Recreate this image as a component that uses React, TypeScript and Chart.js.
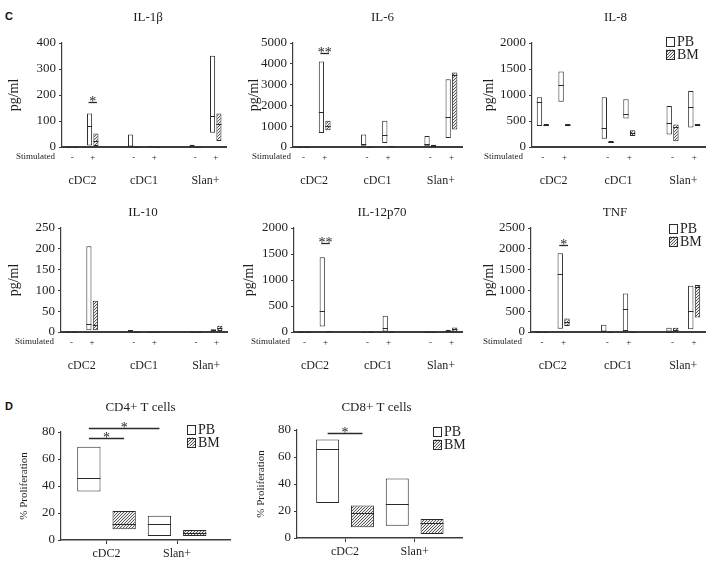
import React, { useEffect, useRef } from "react";
import { Chart, registerables } from "chart.js";

Chart.register(...registerables);

const SERIF = "'Liberation Serif', 'Times New Roman', Times, serif";
const SANS = "'Liberation Sans', Arial, sans-serif";
const INK = "#1e1e1e";
const AXIS = "#3c3c3c";
const EDGE = "#2a2a2a";

// ---------------- data ----------------
// x slots of the cytokine panels (blank slots separate the cell groups)
const STIM_LABELS = ["-", "+", "", "-", "+", "", "-", "+"];
const CELL_GROUPS = ["cDC2", "cDC1", "Slan+"];
const GROUP_CENTERS = [0.5, 3.5, 6.5];
const COLUMN_SLOTS = [0, 1, 3, 4, 6, 7];
const SOURCES = ["PB", "BM"];
const TCELL_GROUPS = ["cDC2", "Slan+"];

// [min, median, max] for columns: cDC2 -, cDC2 +, cDC1 -, cDC1 +, Slan+ -, Slan+ +
const IL1B_PB = [[0, 1, 3], [6, 80, 129], [2, 5, 48], [0, 2, 4], [2, 5, 9], [55, 120, 351]];
const IL1B_BM = [[0, 1, 3], [4, 25, 52], [0, 1, 3], [0, 1, 3], [0, 1, 3], [23, 90, 129]];
const IL6_PB = [[0, 20, 40], [677, 1694, 4113], [65, 129, 597], [194, 581, 1258], [32, 129, 532], [435, 1419, 3258]];
const IL6_BM = [[0, 20, 40], [806, 1032, 1258], [0, 15, 30], [0, 25, 50], [32, 60, 113], [839, 3450, 3580]];
const IL8_PB = [[406, 858, 955], [871, 1194, 1452], [161, 374, 955], [548, 626, 916], [239, 452, 787], [374, 761, 1077]];
const IL8_BM = [[400, 420, 440], [400, 420, 440], [77, 97, 116], [213, 277, 323], [110, 387, 432], [400, 420, 440]];
const IL10_PB = [[0, 1, 2], [4, 20, 206], [0, 3, 5], [0, 1, 2], [0, 0.5, 1], [1.6, 4, 6.5]];
const IL10_BM = [[0, 1, 2], [4, 18, 75], [0, 1, 2], [0, 1, 2], [0, 0.5, 1], [2.4, 10, 15]];
const IL12_PB = [[0, 5, 15], [105, 412, 1437], [0, 5, 10], [0, 80, 314], [0, 1, 3], [5, 20, 40]];
const IL12_BM = [[0, 5, 15], [0, 10, 20], [0, 3, 6], [0, 3, 6], [0, 1, 3], [5, 50, 85]];
const TNF_PB = [[0, 10, 25], [80, 1387, 1895], [0, 16, 177], [24, 548, 927], [0, 10, 105], [65, 500, 1113]];
const TNF_BM = [[0, 10, 20], [145, 242, 323], [0, 5, 10], [0, 5, 10], [0, 56, 105], [347, 1089, 1129]];

// % proliferation [min, median, max] for cDC2, Slan+
const CD4_PB = [[36, 46, 69], [3, 12, 18]];
const CD4_BM = [[8, 12, 21.5], [3, 5, 7.5]];
const CD8_PB = [[26, 66, 73], [9, 25, 44]];
const CD8_BM = [[8, 18.5, 24], [3, 11, 14]];

// ---------------- layout ----------------
const ROWS = [
  { top: 0, height: 195, plotTop: 43, plotBottom: 147 },
  { top: 195, height: 185, plotTop: 228, plotBottom: 332 },
];
const X1_H = 20;
const X2_H = 24;
const Y_W = 56;

const CYTO_PANELS = [
  { title: "IL-1β", pb: IL1B_PB, bm: IL1B_BM, max: 400, step: 100, row: 0, axisX: 62, rightX: 226, yTitlePad: 0, titleDx: 4, titleGap: 25, stimDx: 7, marks: [{ col: 1, value: 175, text: "*" }], legend: null },
  { title: "IL-6", pb: IL6_PB, bm: IL6_BM, max: 5000, step: 1000, row: 0, axisX: 293, rightX: 462, yTitlePad: 9, titleDx: 5, titleGap: 25, stimDx: 2, marks: [{ col: 1, value: 4520, text: "**" }], legend: null },
  { title: "IL-8", pb: IL8_PB, bm: IL8_BM, max: 2000, step: 500, row: 0, axisX: 532, rightX: 705, yTitlePad: 5, titleDx: -3, titleGap: 25, stimDx: 9, marks: [], legend: { dx: -39, dy: -2 } },
  { title: "IL-10", pb: IL10_PB, bm: IL10_BM, max: 250, step: 50, row: 1, axisX: 61, rightX: 227, yTitlePad: 1, titleDx: -1, titleGap: 15, stimDx: 7, marks: [], legend: null },
  { title: "IL-12p70", pb: IL12_PB, bm: IL12_BM, max: 2000, step: 500, row: 1, axisX: 294, rightX: 462, yTitlePad: 3, titleDx: 4, titleGap: 15, stimDx: 4, marks: [{ col: 1, value: 1706, text: "**" }], legend: null },
  { title: "TNF", pb: TNF_PB, bm: TNF_BM, max: 2500, step: 500, row: 1, axisX: 531, rightX: 705, yTitlePad: 6, titleDx: -3, titleGap: 15, stimDx: 9, marks: [{ col: 1, value: 2090, text: "*" }], legend: { dx: -36, dy: 0 } },
];

const TCELL_PANELS = [
  { title: "CD4+ T cells", pb: CD4_PB, bm: CD4_BM, top: 385, height: 180, plotTop: 432, plotBottom: 540, axisX: 61, rightX: 230, xmin: -0.645, xmax: 1.75, yTitlePad: 13, titleDx: -5, titleGap: 24,
    marks: [{ from: [0, 0], to: [1, 0], value: 75.5, text: "*" }, { from: [0, 0], to: [0, 1], value: 83, text: "*" }], legend: { dx: -43, dy: -3 } },
  { title: "CD8+ T cells", pb: CD8_PB, bm: CD8_BM, top: 385, height: 180, plotTop: 430, plotBottom: 538, axisX: 297, rightX: 462, xmin: -0.69, xmax: 1.68, yTitlePad: 14, titleDx: -3, titleGap: 22,
    marks: [{ from: [0, 0], to: [1, 0], value: 78, text: "*" }], legend: { dx: -29, dy: 1 } },
];

function makeHatch(): any {
  const n = 3;
  const c = document.createElement("canvas");
  c.width = n;
  c.height = n;
  const g = c.getContext("2d");
  if (!g) return "#9a9a9a";
  g.fillStyle = "#ededed";
  g.fillRect(0, 0, n, n);
  g.strokeStyle = "#555555";
  g.lineWidth = 1;
  g.beginPath();
  g.moveTo(0, n); g.lineTo(n, 0);
  g.moveTo(-1, 1); g.lineTo(1, -1);
  g.moveTo(n - 1, n + 1); g.lineTo(n + 1, n - 1);
  g.stroke();
  return g.createPattern(c, "repeat") || "#9a9a9a";
}

function slotted(vals: any[]): any[] {
  const out: any[] = new Array(STIM_LABELS.length).fill(null);
  COLUMN_SLOTS.forEach((s, i) => { out[s] = vals[i]; });
  return out;
}

const overlay = {
  id: "overlay",
  afterDatasetsDraw(chart: any, _a: any, o: any) {
    const ctx = chart.ctx;
    const ca = chart.chartArea;
    const ys = chart.scales.y;
    ctx.save();
    // medians
    ctx.lineWidth = 1;
    ctx.strokeStyle = EDGE;
    (o.medians || []).forEach((meds: any[], di: number) => {
      const els = chart.getDatasetMeta(di).data;
      meds.forEach((m: any, i: number) => {
        const el = els[i];
        if (m == null || !el) return;
        const p = el.getProps(["x", "width"], true);
        if (!Number.isFinite(p.x) || !Number.isFinite(p.width)) return;
        const y = Math.round(ys.getPixelForValue(m)) + 0.5;
        ctx.beginPath();
        ctx.moveTo(p.x - p.width / 2, y);
        ctx.lineTo(p.x + p.width / 2, y);
        ctx.stroke();
      });
    });
    // significance bars
    ctx.fillStyle = INK;
    ctx.textAlign = "center";
    ctx.textBaseline = "alphabetic";
    ctx.font = `14px ${SERIF}`;
    (o.marks || []).forEach((mk: any) => {
      const a = chart.getDatasetMeta(mk.from[0]).data[mk.from[1]];
      const b = chart.getDatasetMeta(mk.to[0]).data[mk.to[1]];
      const ext = mk.extend || 0;
      const x1 = a.x - ext;
      const x2 = b.x + ext;
      const y = Math.round(ys.getPixelForValue(mk.value)) + 0.5;
      ctx.lineWidth = 1.3;
      ctx.strokeStyle = EDGE;
      ctx.beginPath();
      ctx.moveTo(x1, y);
      ctx.lineTo(x2, y);
      ctx.stroke();
      ctx.fillText(mk.text, (x1 + x2) / 2, y + 3);
    });
    // panel title
    ctx.font = `13px ${SERIF}`;
    ctx.textBaseline = "middle";
    ctx.textAlign = "center";
    ctx.fillText(o.title, (ca.left + ca.right) / 2 + o.titleDx, ca.top - o.titleGap);
    // "Stimulated" row label
    if (o.stimDx != null) {
      ctx.font = `9px ${SERIF}`;
      ctx.textAlign = "right";
      ctx.fillText("Stimulated", ca.left - o.stimDx, ca.bottom + 10);
    }
    // legend
    if (o.legend) {
      const lx = ca.right + o.legend.dx;
      const ly = ca.top + o.legend.dy;
      o.legend.fills.forEach((f: any, i: number) => {
        const cy = ly + i * 13;
        ctx.fillStyle = f;
        ctx.fillRect(lx, cy - 4.5, 8, 9);
        ctx.lineWidth = 1;
        ctx.strokeStyle = EDGE;
        ctx.strokeRect(lx + 0.5, Math.round(cy - 4.5) + 0.5, 8, 9);
        ctx.fillStyle = INK;
        ctx.font = `14px ${SERIF}`;
        ctx.textAlign = "left";
        ctx.textBaseline = "middle";
        ctx.fillText(SOURCES[i], lx + 11, cy + 1);
      });
    }
    ctx.restore();
  },
};

function yAxis(max: number, step: number, label: string, labelSize: number, pad: number) {
  return {
    type: "linear",
    position: "left",
    min: 0,
    max,
    afterFit: (s: any) => { s.width = Y_W; },
    ticks: { stepSize: step, font: { family: SERIF, size: 13 }, color: INK, padding: 3, callback: (v: any) => String(v) },
    grid: { display: true, drawOnChartArea: false, drawTicks: true, tickLength: 3, color: AXIS, lineWidth: 1 },
    border: { display: true, color: AXIS, width: 1.2 },
    title: { display: true, text: label, font: { family: SERIF, size: labelSize }, color: INK, padding: { top: pad, bottom: 0 } },
  };
}

function cytoConfig(p: any, hatch: any) {
  const row = ROWS[p.row];
  const left = p.axisX - Y_W;
  const padR = 3;
  const padB = row.top + row.height - (row.plotBottom + X1_H + X2_H);
  const barStyle = { borderColor: EDGE, borderWidth: 1, borderSkipped: false, categoryPercentage: 0.62, barPercentage: 0.8, xAxisID: "x", yAxisID: "y" };
  return {
    left,
    top: row.top,
    width: p.rightX - left + padR,
    height: row.height,
    config: {
      type: "bar",
      data: {
        labels: STIM_LABELS,
        datasets: [
          { label: SOURCES[0], data: slotted(p.pb.map((t: number[]) => [t[0], t[2]])), backgroundColor: "#ffffff", ...barStyle },
          { label: SOURCES[1], data: slotted(p.bm.map((t: number[]) => [t[0], t[2]])), backgroundColor: hatch, ...barStyle },
        ],
      },
      options: {
        animation: false,
        responsive: false,
        devicePixelRatio: 1,
        layout: { padding: { top: row.plotTop - row.top, bottom: padB, left: 0, right: padR } },
        plugins: {
          legend: { display: false },
          tooltip: { enabled: false },
          overlay: {
            medians: [slotted(p.pb.map((t: number[]) => t[1])), slotted(p.bm.map((t: number[]) => t[1]))],
            marks: p.marks.map((m: any) => ({ from: [0, COLUMN_SLOTS[m.col]], to: [1, COLUMN_SLOTS[m.col]], value: m.value, text: m.text, extend: 1 })),
            title: p.title,
            titleDx: p.titleDx,
            titleGap: p.titleGap,
            stimDx: p.stimDx,
            legend: p.legend ? { ...p.legend, fills: ["#ffffff", hatch] } : null,
          },
        },
        scales: {
          x: {
            type: "category",
            position: "bottom",
            afterFit: (s: any) => { s.height = X1_H; },
            grid: { display: false, drawTicks: false },
            border: { display: true, color: AXIS, width: 2 },
            ticks: { font: { family: SERIF, size: 9 }, color: INK, padding: 5, autoSkip: false, maxRotation: 0 },
          },
          x2: {
            type: "linear",
            position: "bottom",
            offset: false,
            min: -0.5,
            max: STIM_LABELS.length - 0.5,
            afterFit: (s: any) => { s.height = X2_H; },
            afterBuildTicks: (s: any) => { s.ticks = GROUP_CENTERS.map((v) => ({ value: v })); },
            grid: { display: false, drawTicks: false, offset: false },
            border: { display: false },
            ticks: { font: { family: SERIF, size: 12 }, color: INK, padding: 7, autoSkip: false, maxRotation: 0, callback: (_v: any, i: number) => CELL_GROUPS[i] },
          },
          y: yAxis(p.max, p.step, "pg/ml", 14, p.yTitlePad),
        },
      },
      plugins: [overlay],
    },
  };
}

function tcellConfig(p: any, hatch: any) {
  const left = p.axisX - Y_W;
  const padR = 3;
  const X_H = 22;
  const padB = p.top + p.height - (p.plotBottom + X_H);
  const barStyle = { borderColor: EDGE, borderWidth: 1, borderSkipped: false, categoryPercentage: 1, barPercentage: 0.66, xAxisID: "x", yAxisID: "y" };
  return {
    left,
    top: p.top,
    width: p.rightX - left + padR,
    height: p.height,
    config: {
      type: "bar",
      data: {
        datasets: [
          { label: SOURCES[0], data: p.pb.map((t: number[], i: number) => ({ x: i, y: [t[0], t[2]] })), backgroundColor: "#ffffff", ...barStyle },
          { label: SOURCES[1], data: p.bm.map((t: number[], i: number) => ({ x: i, y: [t[0], t[2]] })), backgroundColor: hatch, ...barStyle },
        ],
      },
      options: {
        animation: false,
        responsive: false,
        devicePixelRatio: 1,
        layout: { padding: { top: p.plotTop - p.top, bottom: padB, left: 0, right: padR } },
        plugins: {
          legend: { display: false },
          tooltip: { enabled: false },
          overlay: {
            medians: [p.pb.map((t: number[]) => t[1]), p.bm.map((t: number[]) => t[1])],
            marks: p.marks,
            title: p.title,
            titleDx: p.titleDx,
            titleGap: p.titleGap,
            stimDx: null,
            legend: { ...p.legend, fills: ["#ffffff", hatch] },
          },
        },
        scales: {
          x: {
            type: "linear",
            position: "bottom",
            offset: false,
            min: p.xmin,
            max: p.xmax,
            afterFit: (s: any) => { s.height = X_H; },
            afterBuildTicks: (s: any) => { s.ticks = TCELL_GROUPS.map((_g, i) => ({ value: i })); },
            grid: { display: true, offset: false, drawOnChartArea: false, drawTicks: true, tickLength: 4, color: AXIS },
            border: { display: true, color: AXIS, width: 1.5 },
            ticks: { font: { family: SERIF, size: 12 }, color: INK, padding: 3, autoSkip: false, maxRotation: 0, callback: (_v: any, i: number) => TCELL_GROUPS[i] },
          },
          y: yAxis(80, 20, "% Proliferation", 11, p.yTitlePad),
        },
      },
      plugins: [overlay],
    },
  };
}

function Panel({ build }: { build: (hatch: any) => any }) {
  const ref = useRef<HTMLCanvasElement>(null);
  const geo = build("#fff");
  useEffect(() => {
    const canvas = ref.current;
    if (!canvas) return;
    const spec = build(makeHatch());
    const chart = new Chart(canvas, spec.config as any);
    return () => chart.destroy();
  }, []);
  return (
    <canvas
      ref={ref}
      width={geo.width}
      height={geo.height}
      style={{ position: "absolute", left: geo.left, top: geo.top, width: geo.width, height: geo.height }}
    />
  );
}

export default function App() {
  return (
    <div style={{ position: "absolute", left: 0, top: 0, width: 708, height: 565, background: "#ffffff", overflow: "hidden" }}>
      <div style={{ position: "absolute", left: 5, top: 10, font: `bold 11px ${SANS}`, color: "#111" }}>C</div>
      <div style={{ position: "absolute", left: 5, top: 400, font: `bold 11px ${SANS}`, color: "#111" }}>D</div>
      {CYTO_PANELS.map((p, i) => (
        <Panel key={"c" + i} build={(h) => cytoConfig(p, h)} />
      ))}
      {TCELL_PANELS.map((p, i) => (
        <Panel key={"t" + i} build={(h) => tcellConfig(p, h)} />
      ))}
    </div>
  );
}
